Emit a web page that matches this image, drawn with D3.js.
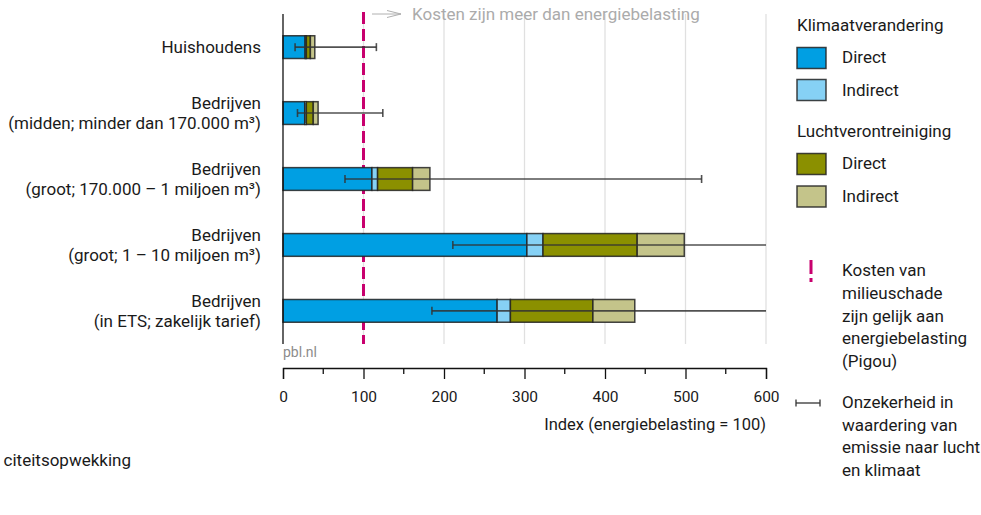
<!DOCTYPE html>
<html lang="nl">
<head>
  <meta charset="UTF-8">
  <title>Kosten milieuschade versus energiebelasting</title>
  <script src="https://d3js.org/d3.v7.min.js"></script>
  <style>
    body { margin: 0; background: #fff; }
    svg { display: block; font-family: Roboto, sans-serif; }
    .label { font-size: 17px; fill: #1a1a1a; }
    .tick text { font-family: Roboto, sans-serif; font-size: 15.5px; fill: #1a1a1a; }
  </style>
</head>
<body>
  <svg id="chart" width="981" height="515"></svg>

  <script>
    // categories (one array of lines per bar)
    const categories = [
      ["Huishoudens"],
      ["Bedrijven", "(midden; minder dan 170.000 m³)"],
      ["Bedrijven", "(groot; 170.000 – 1 miljoen m³)"],
      ["Bedrijven", "(groot; 1 – 10 miljoen m³)"],
      ["Bedrijven", "(in ETS; zakelijk tarief)"]
    ];

    // index values (energiebelasting = 100)
    const klimaatDirect   = [27.5, 27, 110.5, 303, 266];
    const klimaatIndirect = [1.5, 2, 7, 20, 16.5];
    const luchtDirect     = [5, 8.6, 43.5, 117, 102.5];
    const luchtIndirect   = [5.5, 6, 21.5, 58.5, 52];

    // uncertainty range
    const errLow  = [15, 18, 77, 211, 185];
    const errHigh = [116, 124, 520, 650, 650];

    const pigouValue = 100;
    const xTicks = [0, 100, 200, 300, 400, 500, 600];
    const xMinorTicks = [50, 150, 250, 350, 450, 550];

    const seriesKeys = ["kd", "ki", "ld", "li"];
    const colors = { kd: "#009fe3", ki: "#86d1f5", ld: "#8b9000", li: "#c4c48a" };

    const svg = d3.select("#chart");
    const plotLeft = 283, plotRight = 766, plotTop = 14, plotBottom = 344, axisY = 368;

    const x = d3.scaleLinear().domain([0, 600]).range([plotLeft, plotRight]);
    const y = d3.scaleBand().domain(d3.range(categories.length)).range([plotTop, plotBottom]).paddingInner(0.655).paddingOuter(0.33);

    const rows = categories.map((c, i) => ({
      i: i, kd: klimaatDirect[i], ki: klimaatIndirect[i], ld: luchtDirect[i], li: luchtIndirect[i]
    }));
    const stacked = d3.stack().keys(seriesKeys)(rows);

    // gridlines
    svg.append("g").selectAll("line")
      .data(xTicks.slice(1))
      .enter().append("line")
      .attr("x1", d => x(d)).attr("x2", d => x(d))
      .attr("y1", plotTop).attr("y2", plotBottom)
      .attr("stroke", "#e0e0e0").attr("stroke-width", 1.3);

    // pigou line
    svg.append("line")
      .attr("x1", x(pigouValue)).attr("x2", x(pigouValue))
      .attr("y1", plotTop - 2).attr("y2", plotBottom)
      .attr("stroke", "#c8006e").attr("stroke-width", 3)
      .attr("stroke-dasharray", "12,5");

    // bars
    svg.append("g").selectAll("g")
      .data(stacked)
      .enter().append("g")
      .attr("fill", d => colors[d.key])
      .selectAll("rect")
      .data(d => d)
      .enter().append("rect")
      .attr("x", d => x(d[0]))
      .attr("y", d => y(d.data.i))
      .attr("width", d => x(d[1]) - x(d[0]))
      .attr("height", y.bandwidth())
      .attr("stroke", "#222").attr("stroke-opacity", 0.85).attr("stroke-width", 1.5);

    // error bars
    const eb = svg.append("g").attr("stroke", "#333").attr("stroke-opacity", 0.85).attr("stroke-width", 1.6);
    categories.forEach((c, i) => {
      const cy = y(i) + y.bandwidth() / 2;
      const hi = Math.min(errHigh[i], x.domain()[1]);
      eb.append("line").attr("x1", x(errLow[i])).attr("x2", x(hi)).attr("y1", cy).attr("y2", cy);
      eb.append("line").attr("x1", x(errLow[i])).attr("x2", x(errLow[i])).attr("y1", cy - 4).attr("y2", cy + 4);
      if (errHigh[i] <= x.domain()[1]) {
        eb.append("line").attr("x1", x(hi)).attr("x2", x(hi)).attr("y1", cy - 4).attr("y2", cy + 4);
      }
    });

    // y axis line
    svg.append("line")
      .attr("x1", plotLeft).attr("x2", plotLeft).attr("y1", plotTop).attr("y2", plotBottom)
      .attr("stroke", "#111").attr("stroke-width", 1.3);

    // category labels, one text per line
    categories.forEach((lines, i) => {
      const cy = y(i) + y.bandwidth() / 2;
      lines.forEach((l, j) => {
        svg.append("text").attr("class", "label")
          .attr("text-anchor", "end")
          .attr("x", plotLeft - 22)
          .attr("y", cy + (j - (lines.length - 1) / 2) * 20)
          .attr("dy", "0.35em")
          .text(l);
      });
    });

    // x axis
    const axis = svg.append("g").attr("transform", `translate(0,${axisY})`);
    axis.call(d3.axisBottom(x).tickValues(xTicks).tickSize(11).tickPadding(12).tickFormat(d3.format("d")));
    axis.select(".domain").attr("stroke", "#111").attr("stroke-width", 1.3);
    axis.selectAll(".tick line").attr("stroke", "#111").attr("stroke-width", 1.3);
    axis.selectAll(".minor").data(xMinorTicks).enter().append("line")
      .attr("class", "minor")
      .attr("x1", d => x(d)).attr("x2", d => x(d))
      .attr("y1", 0).attr("y2", 6)
      .attr("stroke", "#111").attr("stroke-width", 1.3);

    svg.append("text").attr("class", "label")
      .attr("x", plotRight).attr("y", 424).attr("dy", "0.35em")
      .attr("text-anchor", "end").style("font-size", "16.5px")
      .text("Index (energiebelasting = 100)");

    svg.append("text")
      .attr("x", plotLeft).attr("y", 352).attr("dy", "0.35em")
      .attr("fill", "#8c8c8c").style("font-size", "14px")
      .text("pbl.nl");

    // top annotation
    const ann = svg.append("g").attr("stroke", "#b0b0b0").attr("stroke-width", 1).attr("fill", "none");
    ann.append("line").attr("x1", 372).attr("x2", 401).attr("y1", 14).attr("y2", 14);
    ann.append("path").attr("d", "M387,10.5 L401,14 L387,17.5");
    svg.append("text")
      .attr("x", 412).attr("y", 14).attr("dy", "0.35em")
      .attr("fill", "#ababab").style("font-size", "17px")
      .text("Kosten zijn meer dan energiebelasting");

    // visible tail of a caption that runs off the left edge in the original
    svg.append("text").attr("class", "label")
      .attr("x", 131).attr("y", 460).attr("dy", "0.35em")
      .attr("text-anchor", "end")
      .text("citeitsopwekking");

    // legend
    const lg = svg.append("g");
    const legendText = (tx, ty, txt) => lg.append("text").attr("class", "label")
      .attr("x", tx).attr("y", ty).attr("dy", "0.35em").text(txt);
    const swatch = (sy, key) => lg.append("rect")
      .attr("x", 797).attr("y", sy - 10.5).attr("width", 29).attr("height", 21)
      .attr("fill", colors[key]).attr("stroke", "#222").attr("stroke-opacity", 0.85).attr("stroke-width", 1.5);

    legendText(797, 25, "Klimaatverandering");
    swatch(58, "kd"); legendText(842, 57, "Direct");
    swatch(90, "ki"); legendText(842, 90, "Indirect");
    legendText(797, 131, "Luchtverontreiniging");
    swatch(164, "ld"); legendText(842, 163, "Direct");
    swatch(196.5, "li"); legendText(842, 196, "Indirect");

    lg.append("line").attr("x1", 811).attr("x2", 811).attr("y1", 260).attr("y2", 282)
      .attr("stroke", "#c8006e").attr("stroke-width", 3).attr("stroke-dasharray", "14,4");
    ["Kosten van", "milieuschade", "zijn gelijk aan", "energiebelasting", "(Pigou)"]
      .forEach((l, j) => legendText(842, 270 + j * 22.8, l));

    const lgEb = lg.append("g").attr("stroke", "#333").attr("stroke-width", 1.3);
    lgEb.append("line").attr("x1", 796).attr("x2", 820).attr("y1", 403).attr("y2", 403);
    lgEb.append("line").attr("x1", 796).attr("x2", 796).attr("y1", 399.5).attr("y2", 406.5);
    lgEb.append("line").attr("x1", 820).attr("x2", 820).attr("y1", 399.5).attr("y2", 406.5);
    ["Onzekerheid in", "waardering van", "emissie naar lucht", "en klimaat"]
      .forEach((l, j) => legendText(842, 402 + j * 22.7, l));
  </script>
</body>
</html>
